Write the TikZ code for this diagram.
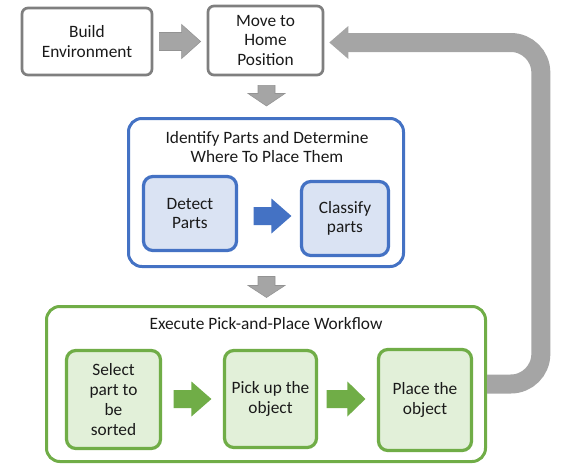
\documentclass[tikz,border=0pt]{standalone}
\usepackage{fontspec}
\setmainfont{Carlito}
\usetikzlibrary{calc}
\definecolor{boxgray}{HTML}{7F7F7F}
\definecolor{arrgray}{HTML}{A5A5A5}
\definecolor{arredge}{HTML}{939393}
\definecolor{myblue}{HTML}{4472C4}
\definecolor{lightblue}{HTML}{DAE3F3}
\definecolor{mygreen}{HTML}{70AD47}
\definecolor{lightgreen}{HTML}{E2F0D9}
\definecolor{txt}{HTML}{1A1A1A}
\newcommand\HArrow[6]{\fill[#6] ($(#1)+(0,-#3)$) -- ($(#2)+(-#5,-#3)$) -- ($(#2)+(-#5,-#4)$) -- (#2) -- ($(#2)+(-#5,#4)$) -- ($(#2)+(-#5,#3)$) -- ($(#1)+(0,#3)$) -- cycle;}
\newcommand\VArrow[6]{\fill[#6] ($(#1)+(-#3,0)$) -- ($(#2)+(-#3,-#5)$) -- ($(#2)+(-#4,-#5)$) -- (#2) -- ($(#2)+(#4,-#5)$) -- ($(#2)+(#3,-#5)$) -- ($(#1)+(#3,0)$) -- cycle;}
\tikzset{
  lbl/.style={font=\fontsize{13}{14.8}\selectfont, text=txt, align=center, inner sep=1pt},
  graybox/.style={lbl, draw=boxgray, fill=white, line width=2pt, rounded corners=4.5pt},
  bluecont/.style={draw=myblue, fill=white, line width=2.25pt, rounded corners=10pt, inner sep=0pt},
  bluebox/.style={lbl, draw=myblue, fill=lightblue, line width=2.4pt, rounded corners=7pt},
  greencont/.style={draw=mygreen, fill=white, line width=2.25pt, rounded corners=10pt, inner sep=0pt},
  greenbox/.style={lbl, draw=mygreen, fill=lightgreen, line width=2.4pt, rounded corners=7pt},
  grayarrow/.style={fill=arrgray, draw=arredge, line width=0.4pt},
  bluearrow/.style={fill=myblue},
  greenarrow/.style={fill=mygreen}
}
\begin{document}
\begin{tikzpicture}[x=0.75pt,y=-0.75pt]
\useasboundingbox (0,0) rectangle (587,471);
% top row
\node[graybox, minimum width=97.5pt, minimum height=50.25pt] (build) at (87,41.5) {Build\\Environment};
\node[graybox, minimum width=86.25pt, minimum height=51.75pt] (move) at (265.5,40.5) {Move to\\Home\\Position};
% blue container
\node[bluecont, minimum width=206.25pt, minimum height=111pt] (blue) at (266,192.5) {};
\node[lbl] (bluetitle) at (267,147) {Identify Parts and Determine\\Where To Place Them};
\node[bluebox, minimum width=69.75pt, minimum height=55.5pt] (detect) at (190,213.5) {Detect\\Parts};
\node[bluebox, minimum width=65.25pt, minimum height=55.5pt] (classify) at (345,218.5) {Classify\\parts};
% green container
\node[greencont, minimum width=329.25pt, minimum height=116.25pt] (green) at (266,384) {};
\node[lbl] (greentitle) at (266,324) {Execute Pick-and-Place Workflow};
\node[greenbox, minimum width=70.5pt, minimum height=73.5pt] (select) at (113.5,399.5) {Select\\part to\\be\\sorted};
\node[greenbox, minimum width=69pt, minimum height=72.75pt] (pick) at (270.5,399) {Pick up the\\object};
\node[greenbox, minimum width=69.75pt, minimum height=75.75pt] (place) at (425,400) {Place the\\object};
% arrow anchor coordinates
\coordinate (a1t) at ($(build.east)+(6,0)$);
\coordinate (a1h) at ($(move.west |- a1t)+(-6,0)$);
\coordinate (a2t) at ($(move.south)+(1,9)$);
\coordinate (a2h) at ($(blue.north -| a2t)+(0,-11)$);
\coordinate (a3t) at ($(blue.south)+(0.5,8.5)$);
\coordinate (a3h) at ($(green.north -| a3t)+(0,-7.5)$);
\coordinate (a4t) at ($(detect.east)+(15.5,2.5)$);
\coordinate (a4h) at ($(classify.west |- a4t)+(-8.5,0)$);
\coordinate (a5t) at ($(select.east)+(11.5,-0.5)$);
\coordinate (a5h) at ($(pick.west |- a5t)+(-11.5,0)$);
\coordinate (a6t) at ($(pick.east)+(8.5,0)$);
\coordinate (a6h) at ($(place.west |- a6t)+(-11.5,0)$);
% block arrows
\HArrow{a1t}{a1h}{9}{17}{19}{grayarrow}
\VArrow{a2t}{a2h}{8.5}{18.5}{12.5}{grayarrow}
\VArrow{a3t}{a3h}{8.5}{18.5}{12}{grayarrow}
\HArrow{a4t}{a4h}{9}{17.5}{20}{bluearrow}
\HArrow{a5t}{a5h}{9}{17.5}{20}{greenarrow}
\HArrow{a6t}{a6h}{9}{17.5}{18}{greenarrow}
% return arrow
\coordinate (rcol) at ($(move.east)+(216.5,2)$);
\coordinate (rtip) at ($(move.east)+(5,2)$);
\coordinate (rbase) at ($(rtip)+(17,0)$);
\draw[arrgray, line width=14.25pt, rounded corners=22.5pt] (green.east) -- (green.east -| rcol) -- (rcol) -- (rbase);
\fill[arrgray] (rtip) -- ($(rtip)+(19,-16.5)$) -- ($(rtip)+(19,16.5)$) -- cycle;
\end{tikzpicture}
\end{document}
